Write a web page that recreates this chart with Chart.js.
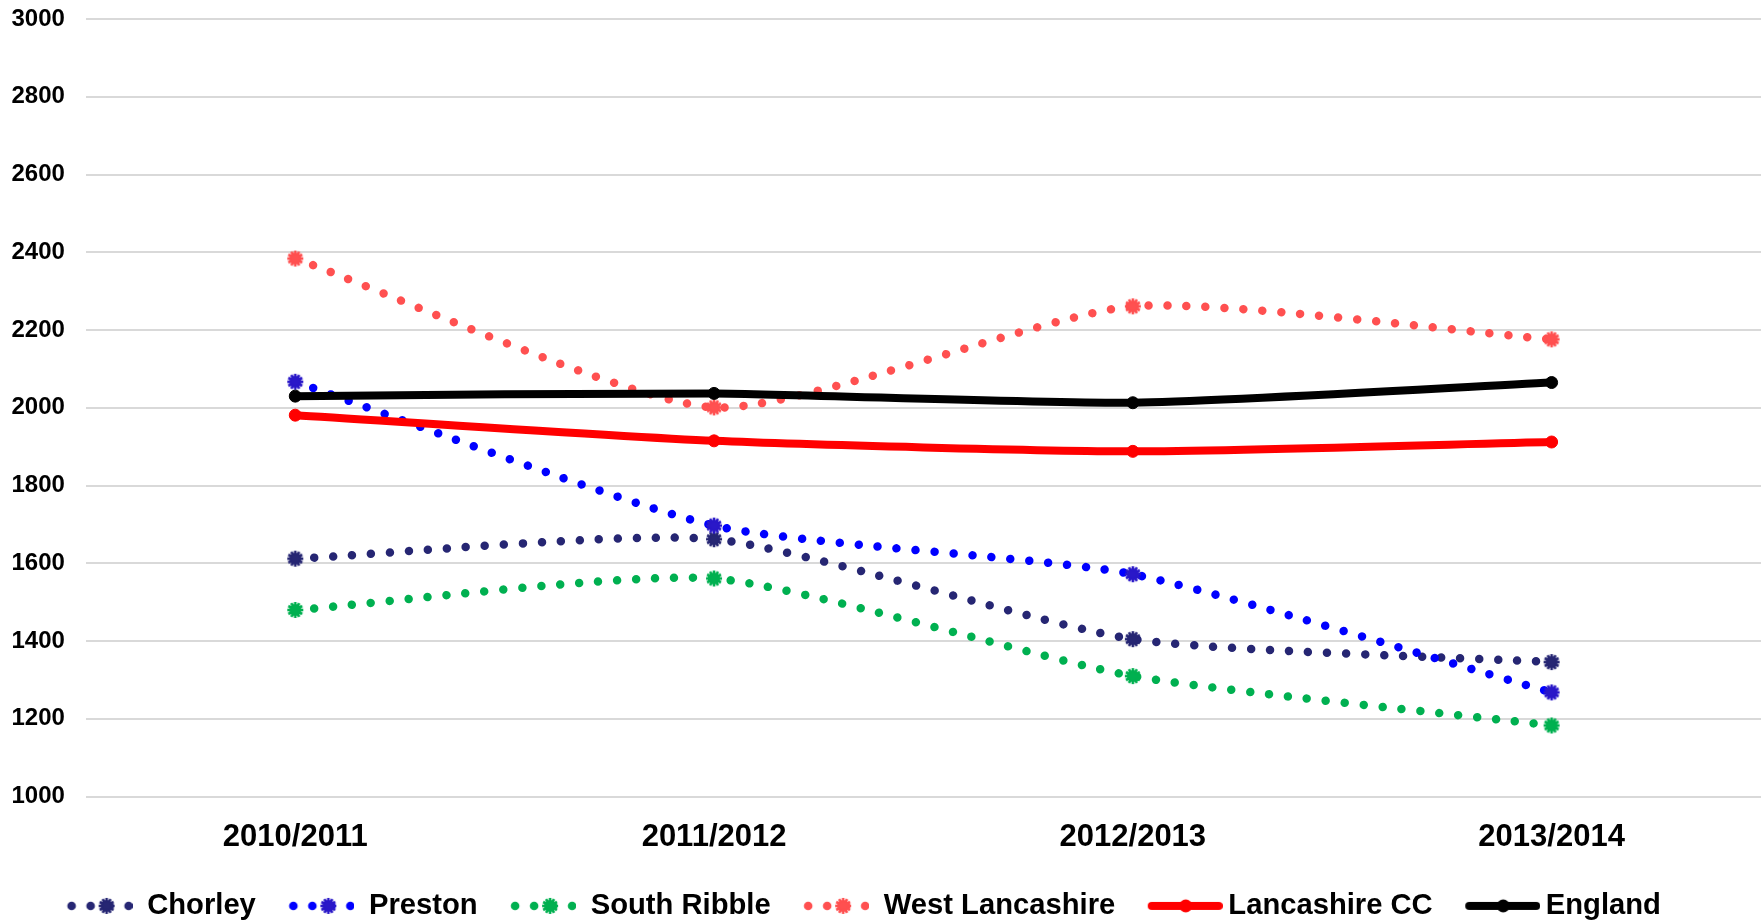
<!DOCTYPE html>
<html><head><meta charset="utf-8">
<script src="https://cdn.jsdelivr.net/npm/chart.js@4/dist/chart.umd.min.js"></script>
<style>html,body{margin:0;padding:0;background:#fff;} #wrap{width:1763px;height:921px;}</style>
</head><body><div id="wrap"><canvas id="c" width="1763" height="921"></canvas></div>
<script>
const categories = ['2010/2011', '2011/2012', '2012/2013', '2013/2014'];
const seriesNames = ['Chorley', 'Preston', 'South Ribble', 'West Lancashire', 'Lancashire CC', 'England'];
const chorley = [1612, 1662, 1405, 1346];
const preston = [2067, 1697, 1572, 1268];
const southRibble = [1480, 1561, 1310, 1183];
const westLancashire = [2384, 2001, 2261, 2176];
const lancashireCC = [1981, 1915, 1888, 1912];
const england = [2030, 2037, 2013, 2065];
const yMin = 1000, yMax = 3000, yStep = 200;

const FONT = "'Liberation Sans', Arial, sans-serif";

function makeBurst(color) {
  const s = 20, c = document.createElement('canvas');
  c.width = s; c.height = s;
  const g = c.getContext('2d');
  g.fillStyle = color;
  g.beginPath(); g.arc(s/2, s/2, 6, 0, Math.PI*2); g.fill();
  for (let i = 0; i < 12; i++) {
    g.save(); g.translate(s/2, s/2); g.rotate(i * Math.PI / 6);
    g.fillRect(4, -1.3, 4, 2.6);
    g.restore();
  }
  return c;
}
// legend sample: leading 19px blank, then 66px dotted sample
function makeDotLegend(lineColor, markerColor) {
  const w = 85, h = 20, c = document.createElement('canvas');
  c.width = w; c.height = h;
  const g = c.getContext('2d');
  g.fillStyle = lineColor;
  [24, 43, 62, 81].forEach(x => { g.beginPath(); g.arc(x, h/2, 4.3, 0, Math.PI*2); g.fill(); });
  g.drawImage(makeBurst(markerColor), 59 - 10, 0);
  return c;
}
function makeSolidLegend(color) {
  const w = 103, h = 20, c = document.createElement('canvas');
  c.width = w; c.height = h;
  const g = c.getContext('2d');
  g.strokeStyle = color; g.lineWidth = 8; g.lineCap = 'round';
  g.beginPath(); g.moveTo(32, h/2); g.lineTo(99, h/2); g.stroke();
  g.fillStyle = color;
  g.beginPath(); g.arc(66, h/2, 6.5, 0, Math.PI*2); g.fill();
  return c;
}

const styles = [
  {data: chorley, line: '#262673', marker: '#262673', dotted: true},
  {data: preston, line: '#0000ff', marker: '#2a18c8', dotted: true},
  {data: southRibble, line: '#00b050', marker: '#00b050', dotted: true},
  {data: westLancashire, line: '#ff5050', marker: '#ff5050', dotted: true},
  {data: lancashireCC, line: '#ff0000', marker: '#ff0000', dotted: false},
  {data: england, line: '#000000', marker: '#000000', dotted: false}
];

const legendImages = styles.map(s => s.dotted ? makeDotLegend(s.line, s.marker) : makeSolidLegend(s.line));

const datasets = styles.map((s, i) => {
  const base = {
    label: seriesNames[i],
    data: s.data,
    borderColor: s.line,
    backgroundColor: s.marker,
    tension: 0.2,
    fill: false
  };
  if (s.dotted) {
    return Object.assign(base, {
      borderWidth: 8.5, borderDash: [0.001, 19], borderCapStyle: 'round',
      pointStyle: makeBurst(s.marker), pointRadius: 8, order: 10 - i
    });
  }
  return Object.assign(base, {
    borderWidth: 8, borderCapStyle: 'round', borderJoinStyle: 'round',
    pointStyle: 'circle', pointRadius: 6, pointBorderWidth: 1, pointBorderColor: s.line, order: 5 - i
  });
});

const legendShift = {
  id: 'legendShift',
  afterLayout(chart) {
    const l = chart.legend;
    if (l) { l.left -= 32; l.right -= 32; }
  }
};

new Chart(document.getElementById('c'), {
  type: 'line',
  data: {labels: categories, datasets},
  plugins: [legendShift],
  options: {
    responsive: false, animation: false, devicePixelRatio: 1,
    layout: {autoPadding: false, padding: {left: 11.5, right: 2, top: 19, bottom: -9.5}},
    scales: {
      x: {
        offset: true,
        grid: {display: true, drawOnChartArea: false, color: 'rgba(0,0,0,0)', drawTicks: true, tickLength: 22, tickColor: 'rgba(0,0,0,0)'},
        border: {display: false},
        ticks: {font: {family: FONT, size: 31, weight: 'bold'}, color: '#000', padding: 0, maxRotation: 0, autoSkip: false},
        afterFit: (scale) => { scale.height += 22; }
      },
      y: {
        min: yMin, max: yMax,
        grid: {color: '#d9d9d9', lineWidth: 2, drawTicks: true, tickLength: 21, tickColor: 'rgba(0,0,0,0)'},
        border: {display: false},
        ticks: {stepSize: yStep, font: {family: FONT, size: 24, weight: 'bold'}, color: '#000', padding: 0,
                callback: v => String(v)}
      }
    },
    plugins: {
      tooltip: {enabled: false},
      legend: {
        position: 'bottom',
        labels: {
          usePointStyle: true, pointStyleWidth: 85,
          font: {family: FONT, size: 29.2, weight: 'bold'}, color: '#000', padding: 13.5,
          generateLabels: (chart) => {
            const items = Chart.defaults.plugins.legend.labels.generateLabels(chart);
            items.sort((a, b) => a.datasetIndex - b.datasetIndex);
            items.forEach(it => { it.pointStyle = legendImages[it.datasetIndex]; it.fontColor = '#000'; });
            return items;
          }
        }
      }
    }
  }
});
</script></body></html>
